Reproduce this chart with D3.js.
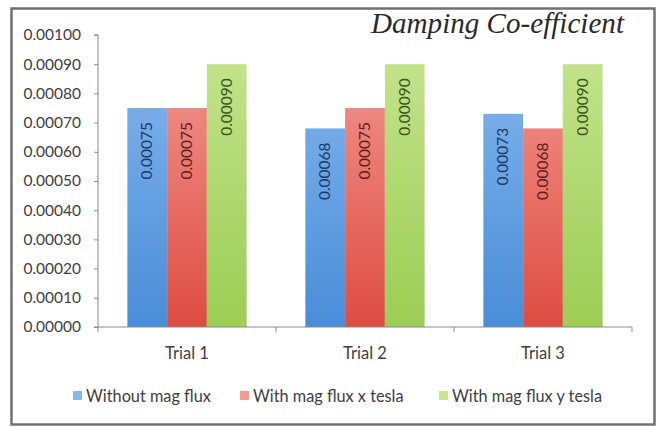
<!DOCTYPE html>
<html>
<head>
<meta charset="utf-8">
<script src="https://cdn.jsdelivr.net/npm/d3@7"></script>
<style>
  html, body { margin: 0; padding: 0; background: #fff; }
  svg { display: block; font-family: Lato, "Open Sans", sans-serif; }
</style>
</head>
<body>
<svg id="chart" width="662" height="427"></svg>
<script>
const categories = ["Trial 1", "Trial 2", "Trial 3"];
const seriesNames = ["Without mag flux", "With mag flux x tesla", "With mag flux y tesla"];
const withoutMagFlux = [0.00075, 0.00068, 0.00073];
const withMagFluxX = [0.00075, 0.00075, 0.00068];
const withMagFluxY = [0.00090, 0.00090, 0.00090];
const yTicks = [0, 0.0001, 0.0002, 0.0003, 0.0004, 0.0005, 0.0006, 0.0007, 0.0008, 0.0009, 0.001];
const titleText = "Damping Co-efficient";

const seriesValues = [withoutMagFlux, withMagFluxX, withMagFluxY];
const topColors = ["#86b8ef", "#f39b94", "#c6e590"];
const bottomColors = ["#4a8dd8", "#de4c42", "#9ccd54"];
const labelColors = ["#1d3a66", "#5e1e1a", "#3a5416"];

const svg = d3.select("#chart");
const pLeft = 98, pRight = 632, pTop = 35, pBottom = 327;

const x0 = d3.scaleBand().domain(categories).range([pLeft, pRight]).paddingInner(0.33).paddingOuter(0.165);
const x1 = d3.scaleBand().domain(d3.range(3)).range([0, x0.bandwidth()]);
const y = d3.scaleLinear().domain([0, 0.001]).range([pBottom, pTop]);

// frame
svg.append("rect").attr("x", 11.5).attr("y", 8.5).attr("width", 643).attr("height", 416)
  .attr("fill", "#fff").attr("stroke", "#707070").attr("stroke-width", 2.5);

// gradients
const defs = svg.append("defs");
seriesNames.forEach((s, i) => {
  const g = defs.append("linearGradient").attr("id", "g" + i)
    .attr("gradientUnits", "userSpaceOnUse")
    .attr("x1", 0).attr("x2", 0).attr("y1", y(0.001)).attr("y2", y(0));
  g.append("stop").attr("offset", 0).attr("stop-color", topColors[i]);
  g.append("stop").attr("offset", 1).attr("stop-color", bottomColors[i]);
});

// bars
const groups = svg.append("g").selectAll("g").data(categories).join("g")
  .attr("transform", d => `translate(${x0(d)},0)`);
groups.each(function(cat, ci) {
  const g = d3.select(this);
  seriesValues.forEach((vals, si) => {
    const v = vals[ci];
    g.append("rect")
      .attr("x", x1(si)).attr("width", x1.bandwidth())
      .attr("y", y(v)).attr("height", y(0) - y(v))
      .attr("fill", `url(#g${si})`);
    const cx = x1(si) + x1.bandwidth() / 2;
    const ty = y(v) + 14;
    g.append("text")
      .attr("transform", `translate(${cx + 5},${ty}) rotate(-90)`)
      .attr("text-anchor", "end")
      .attr("font-size", 15.5)
      .attr("fill", labelColors[si])
      .text(v.toFixed(5));
  });
});

// y axis
const yAxis = d3.axisLeft(y).tickValues(yTicks).tickSize(4).tickPadding(13)
  .tickFormat(d => d.toFixed(5));
const ya = svg.append("g").attr("transform", `translate(${pLeft},0)`).call(yAxis);
ya.attr("font-family", null).attr("font-size", null);
ya.select(".domain").attr("stroke", "#8a8a8a").attr("d", `M-4,${pTop}H0V${pBottom}H-4`);
ya.selectAll(".tick line").attr("stroke", "#8a8a8a");
ya.selectAll(".tick text").attr("font-size", 15.5).attr("fill", "#404040");

// x axis
const xa = svg.append("g").attr("transform", `translate(0,${pBottom})`);
xa.append("line").attr("x1", pLeft).attr("x2", pRight).attr("y1", 0).attr("y2", 0).attr("stroke", "#8a8a8a");
const boundaries = [pLeft].concat(categories.map(c => x0(c) + x0.bandwidth() + x0.step() * x0.paddingInner() / 2));
boundaries[boundaries.length - 1] = pRight;
xa.selectAll("line.t").data(boundaries).join("line").attr("class", "t")
  .attr("x1", d => d).attr("x2", d => d).attr("y1", 0).attr("y2", 5).attr("stroke", "#8a8a8a");
xa.selectAll("text").data(categories).join("text")
  .attr("x", d => x0(d) + x0.bandwidth() / 2).attr("y", 32)
  .attr("text-anchor", "middle").attr("font-size", 16.5).attr("fill", "#404040")
  .text(d => d);

// title
svg.append("text").attr("x", 371).attr("y", 33)
  .style("font-family", "'Liberation Serif', 'DejaVu Serif', serif").style("font-style", "italic")
  .attr("font-size", 30).attr("fill", "#2a2a2a")
  .attr("textLength", 253).attr("lengthAdjust", "spacingAndGlyphs")
  .text(titleText);

// legend
const legendX = [73, 240, 439];
const lg = svg.append("g").selectAll("g").data(seriesNames).join("g")
  .attr("transform", (d, i) => `translate(${legendX[i]},391)`);
lg.append("rect").attr("width", 9).attr("height", 9).attr("fill", (d, i) => topColors[i]);
lg.append("text").attr("x", 13).attr("y", 11).attr("font-size", 16.3).attr("fill", "#404040").text(d => d);
</script>
</body>
</html>
